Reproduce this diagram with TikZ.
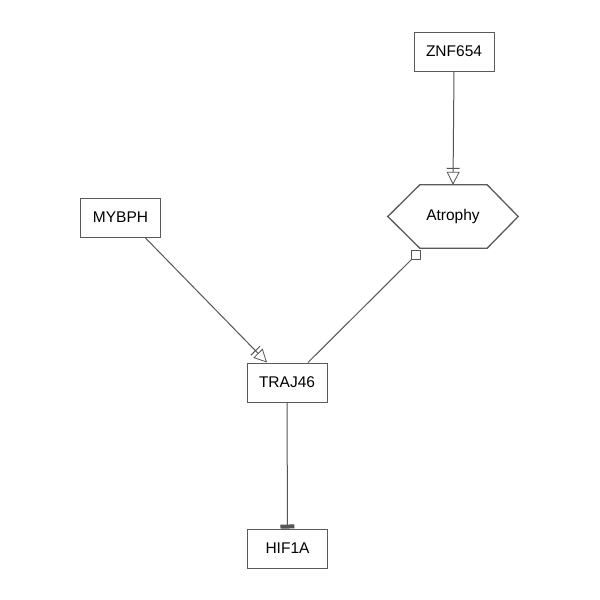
\documentclass[tikz,border=0pt]{standalone}
\usepackage{fontspec}
\setmainfont{Liberation Sans}
\usetikzlibrary{arrows.meta,calc}
\definecolor{boxc}{HTML}{5A5A5A}
\definecolor{edgec}{HTML}{555555}
\tikzset{
  genebox/.style={draw=boxc, line width=1pt, fill=white, minimum width=80pt, minimum height=39pt, inner sep=0pt, font=\fontsize{15.5}{18}\selectfont},
  edge/.style={draw=edgec, line width=1pt},
  stimarrow/.style={edge, -{Bar[width=13pt, line width=1pt, sep=3pt] Triangle[open, length=13pt, width=13pt, line width=0.8pt, fill=white]}},
  inhibarrow/.style={edge, -{Rectangle[length=4pt, width=14pt, fill=edgec]}},
}
\begin{document}
\begin{tikzpicture}[x=1pt, y=-1pt]
\useasboundingbox (0,0) rectangle (600,600);
\fill[white] (0,0) rectangle (600,600);
\node[genebox] (znf) at (454,51.5) {ZNF654};
\node[genebox] (mybph) at (120.5,217.5) {MYBPH};
\node[genebox] (traj) at (287,382.5) {TRAJ46};
\node[genebox] (hif) at (287.5,548.5) {HIF1A};
% hexagon
\node[minimum width=130pt, minimum height=63pt, inner sep=0pt, font=\fontsize{15.5}{18}\selectfont] (atr) at (453,216.5) {Atrophy};
\draw[draw=boxc, line width=1.3pt] (atr.west) -- ($(atr.north west)+(32,0)$) -- ($(atr.north east)+(-31,0)$) -- (atr.east) -- ($(atr.south east)+(-31,0)$) -- ($(atr.south west)+(32,0)$) -- cycle;
\coordinate (sq) at ($(atr.south west)+(32,0)$);
% edges
\draw[stimarrow] (znf.south) -- (atr.north);
\draw[stimarrow] ($(mybph.south)+(24.5,0)$) -- ($(traj.north)+(-20,0)$);
\draw[edge] ($(sq)+(-8,11)$) -- ($(traj.north)+(21,0)$);
\draw[draw=edgec, line width=0.8pt, fill=white] ($(sq)+(-8,2)$) rectangle ($(sq)+(1,11)$);
\draw[inhibarrow] (traj.south) -- (hif.north);
\end{tikzpicture}
\end{document}
